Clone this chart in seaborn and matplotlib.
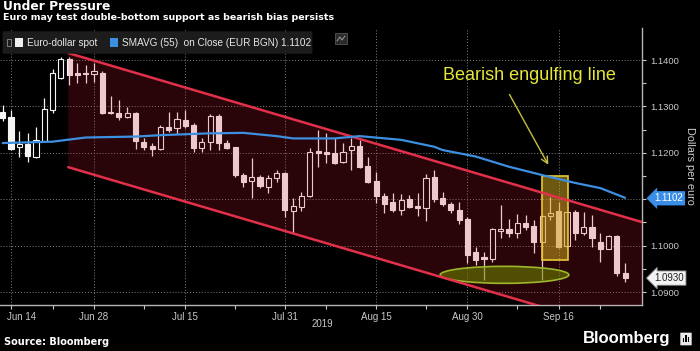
import numpy as np
import pandas as pd
import seaborn as sns
import matplotlib.pyplot as plt
import matplotlib.transforms as mtransforms
from matplotlib.patches import Rectangle, Ellipse, Polygon, FancyBboxPatch

# EUR/USD daily candles, 13 Jun - 26 Sep 2019
dates = pd.bdate_range('2019-06-13', '2019-09-26')

opens = [1.1288, 1.1277, 1.1212, 1.1219, 1.1191, 1.1225, 1.1292, 1.1361, 1.1402, 1.1372,
         1.1372, 1.1370, 1.1372, 1.1288, 1.1286, 1.1277, 1.1286, 1.1223, 1.1215, 1.1208,
         1.1256, 1.1253, 1.1271, 1.1260, 1.1210, 1.1223, 1.1279, 1.1221, 1.1212, 1.1152,
         1.1139, 1.1148, 1.1126, 1.1146, 1.1156, 1.1075, 1.1083, 1.1107, 1.1204, 1.1202,
         1.1200, 1.1180, 1.1206, 1.1215, 1.1172, 1.1139, 1.1107, 1.1094, 1.1077, 1.1100,
         1.1085, 1.1081, 1.1148, 1.1103, 1.1090, 1.1077, 1.1057, 1.0986, 1.0975, 1.0971,
         1.1031, 1.1036, 1.1027, 1.1049, 1.1042, 1.1008, 1.1064, 1.1075, 1.0999, 1.1072,
         1.1027, 1.1040, 1.1008, 1.0993, 1.1021, 1.0941]
highs = [1.1303, 1.1292, 1.1247, 1.1243, 1.1256, 1.1318, 1.1381, 1.1406, 1.1406, 1.1394,
         1.1389, 1.1394, 1.1376, 1.1322, 1.1314, 1.1299, 1.1288, 1.1232, 1.1221, 1.1260,
         1.1288, 1.1288, 1.1292, 1.1264, 1.1232, 1.1284, 1.1284, 1.1228, 1.1212, 1.1156,
         1.1189, 1.1152, 1.1152, 1.1163, 1.1159, 1.1103, 1.1116, 1.1210, 1.1249, 1.1243,
         1.1232, 1.1221, 1.1232, 1.1228, 1.1191, 1.1159, 1.1113, 1.1113, 1.1111, 1.1109,
         1.1113, 1.1154, 1.1163, 1.1116, 1.1094, 1.1094, 1.1062, 1.0997, 1.0986, 1.1038,
         1.1087, 1.1057, 1.1068, 1.1066, 1.1055, 1.1066, 1.1105, 1.1094, 1.1072, 1.1077,
         1.1072, 1.1066, 1.1027, 1.1023, 1.1023, 1.0962]
lows = [1.1269, 1.1206, 1.1191, 1.1180, 1.1189, 1.1223, 1.1286, 1.1359, 1.1346, 1.1350,
        1.1350, 1.1353, 1.1284, 1.1284, 1.1271, 1.1275, 1.1208, 1.1206, 1.1193, 1.1206,
        1.1245, 1.1241, 1.1253, 1.1202, 1.1202, 1.1206, 1.1206, 1.1208, 1.1148, 1.1126,
        1.1103, 1.1124, 1.1113, 1.1137, 1.1062, 1.1027, 1.1075, 1.1105, 1.1169, 1.1178,
        1.1176, 1.1178, 1.1163, 1.1167, 1.1135, 1.1092, 1.1070, 1.1072, 1.1066, 1.1081,
        1.1064, 1.1053, 1.1094, 1.1085, 1.1070, 1.1047, 1.0962, 1.0958, 1.0926, 1.0965,
        1.1016, 1.1019, 1.1016, 1.1034, 1.0984, 1.0926, 1.1055, 1.0995, 1.0995, 1.1012,
        1.1023, 1.0997, 1.0965, 1.0993, 1.0934, 1.0922]
closes = [1.1275, 1.1208, 1.1219, 1.1193, 1.1228, 1.1294, 1.1372, 1.1402, 1.1368, 1.1368,
          1.1370, 1.1376, 1.1286, 1.1286, 1.1277, 1.1286, 1.1225, 1.1212, 1.1208, 1.1256,
          1.1249, 1.1273, 1.1258, 1.1210, 1.1223, 1.1279, 1.1221, 1.1210, 1.1152, 1.1137,
          1.1148, 1.1128, 1.1146, 1.1156, 1.1077, 1.1085, 1.1107, 1.1202, 1.1200, 1.1197,
          1.1178, 1.1202, 1.1215, 1.1169, 1.1137, 1.1107, 1.1090, 1.1077, 1.1098, 1.1083,
          1.1081, 1.1146, 1.1100, 1.1090, 1.1077, 1.1055, 1.0980, 1.0969, 1.0971, 1.1036,
          1.1036, 1.1027, 1.1049, 1.1040, 1.1008, 1.1064, 1.1070, 1.0997, 1.1072, 1.1027,
          1.1040, 1.1016, 1.0993, 1.1021, 1.0941, 1.0930]

# 55-day simple moving average, sampled along the blue line
sma_pos = [0, 6, 10, 16, 19, 25, 29, 33, 35, 40, 43, 48, 52, 53, 57, 61, 65, 69, 72, 75]
sma_vals = [1.1221, 1.1224, 1.1233, 1.1235, 1.1238, 1.1242, 1.1243, 1.1236, 1.1231, 1.1231,
            1.1236, 1.1228, 1.1213, 1.1206, 1.1192, 1.1170, 1.1152, 1.1135, 1.1124, 1.1103]

major_dates = ['2019-06-14', '2019-06-28', '2019-07-15', '2019-07-31',
               '2019-08-15', '2019-08-30', '2019-09-16']
major_labels = ['Jun 14', 'Jun 28', 'Jul 15', 'Jul 31', 'Aug 15', 'Aug 30', 'Sep 16']
minor_dates = ['2019-06-21', '2019-07-08', '2019-07-23', '2019-08-07',
               '2019-08-23', '2019-09-09', '2019-09-23']
y_major = [1.09, 1.10, 1.11, 1.12, 1.13, 1.14]
y_labels = ['1.0900', '1.1000', '', '1.1200', '1.1300', '1.1400']
y_minor = [1.095, 1.105, 1.115, 1.125, 1.135]

# trend channel: start position, upper / lower price at start, slope per day
chan_start = 7.9
chan_top0 = 1.1415
chan_bot0 = 1.1169
chan_slope = -0.000527

last_sma = 1.1102
last_close = 1.0930

sns.set_theme(style='dark', rc={'axes.facecolor': 'black', 'figure.facecolor': 'black',
                                'savefig.facecolor': 'black'})
plt.rcParams['font.family'] = ['Liberation Sans', 'DejaVu Sans']

W, H = 700, 351
fx = lambda x: x / W
fy = lambda y: 1 - y / H

fig = plt.figure(figsize=(7, 3.51), dpi=100)
ax = fig.add_axes([0, fy(305), fx(642), 277 / H])

xs = np.arange(len(dates))
o = np.array(opens); c = np.array(closes)
up = c >= o
candle = '#f5f5f5'

ax.vlines(xs, lows, highs, color=candle, lw=0.9, zorder=2)
bottoms = np.minimum(o, c)
heights = np.maximum(np.abs(c - o), 0.00008)
ax.bar(xs, heights, bottom=bottoms, width=0.62,
       color=np.where(up, 'black', candle), edgecolor=candle, linewidth=0.8, zorder=3)

# channel shading and lines
x_end = 77.03
top_end = chan_top0 + chan_slope * (x_end - chan_start)
bot_end = chan_bot0 + chan_slope * (x_end - chan_start)
ax.add_patch(Polygon([(chan_start, chan_top0), (x_end, top_end), (x_end, bot_end),
                      (chan_start, chan_bot0)], closed=True, facecolor=(0.82, 0.1, 0.2),
                     alpha=0.2, edgecolor='none', zorder=4))
ax.plot([chan_start, x_end], [chan_top0, top_end], color='#e2304a', lw=1.8, zorder=6)
ax.plot([chan_start, x_end], [chan_bot0, bot_end], color='#e2304a', lw=1.8, zorder=6)

# engulfing box and double-bottom ellipse
ax.add_patch(Rectangle((64.95, 1.0968), 3.15, 0.0181, facecolor='#d8b020', alpha=0.5,
                       edgecolor='none', zorder=5))
ax.add_patch(Rectangle((64.95, 1.0968), 3.15, 0.0181, facecolor='none',
                       edgecolor='#e8c838', lw=1.2, zorder=5))
ax.add_patch(Ellipse((60.46, 1.0937), 15.5, 0.00366, facecolor=(0.45, 0.55, 0.0), alpha=0.55,
                     edgecolor='none', zorder=5))
ax.add_patch(Ellipse((60.46, 1.0937), 15.5, 0.00366, facecolor='none',
                     edgecolor='#9cb82a', lw=1.2, zorder=5))

sns.lineplot(x=sma_pos, y=sma_vals, ax=ax, color='#3d8fe0', lw=1.6, zorder=7)

ax.annotate('', xy=(65.9, 1.1169), xytext=(60.9, 1.1331),
            arrowprops=dict(arrowstyle='->', color='#c8c040', lw=1.0), zorder=8)
ax.text(53.05, 1.1366, 'Bearish engulfing line', color='#e6e63a', fontsize=13,
        ha='left', va='center', zorder=8)

ax.set_xlim(-0.33, x_end)
ax.set_ylim(1.0872, 1.1469)

major_pos = [dates.get_loc(pd.Timestamp(d)) for d in major_dates]
minor_pos = [dates.get_loc(pd.Timestamp(d)) for d in minor_dates]
ax.set_xticks(major_pos)
ax.set_xticklabels(major_labels)
ax.set_xticks(minor_pos, minor=True)
ax.set_yticks(y_major)
ax.set_yticklabels(y_labels)
ax.set_yticks(y_minor, minor=True)
ax.yaxis.tick_right()

ax.grid(True, which='major', color='#808080', lw=0.7, linestyle=(0, (1, 2)))
ax.set_axisbelow(True)
ax.tick_params(axis='x', which='both', colors='#c8c8c8', labelsize=7, length=3,
               width=0.8, pad=2, bottom=True)
ax.tick_params(axis='y', which='both', colors='#c8c8c8', labelsize=6.8, length=3,
               width=0.8, pad=3, right=True, left=False, labelright=True, labelleft=False)
for s in ['left', 'top']:
    ax.spines[s].set_visible(False)
for s in ['right', 'bottom']:
    ax.spines[s].set_visible(True)
    ax.spines[s].set_color('#b4b4b4')
    ax.spines[s].set_linewidth(1.0)
ax.set_xlabel('')
ax.set_ylabel('')

# first date label sits to the right of its tick so it stays on the page
first = ax.get_xticklabels()[0]
first.set_horizontalalignment('left')
first.set_transform(first.get_transform() +
                    mtransforms.ScaledTranslation(-4 / 100, 0, fig.dpi_scale_trans))

# price tags on the right axis
blend = mtransforms.blended_transform_factory(ax.transAxes, ax.transData)
ax.text(1.019, last_sma, f'{last_sma:.4f}', transform=blend, color='white', fontsize=7,
        ha='left', va='center', clip_on=False, zorder=9,
        bbox=dict(boxstyle='larrow,pad=0.22', fc='#3a8ee6', ec='none'))
ax.text(1.019, last_close, f'{last_close:.4f}', transform=blend, color='#202020',
        fontsize=7, ha='left', va='center', clip_on=False, zorder=9,
        bbox=dict(boxstyle='larrow,pad=0.22', fc='#f2f2f2', ec='#888888', lw=0.6))

fig.text(fx(690), fy(166), 'Dollars per euro', rotation=270, color='#d0d0d0',
         fontsize=7.8, ha='center', va='center')

# header
fig.text(fx(3), fy(6), 'Under Pressure', color='white', fontsize=8.8, fontweight='bold',
         family='DejaVu Sans', ha='left', va='center')
fig.text(fx(3), fy(18), 'Euro may test double-bottom support as bearish bias persists',
         color='white', fontsize=6.8, fontweight='bold', family='DejaVu Sans',
         ha='left', va='center')

# legend bar
fig.patches.append(FancyBboxPatch((fx(4), fy(53)), fx(307), 21 / H, boxstyle='round,pad=0.002',
                                  transform=fig.transFigure, fc='#1c1c1c', ec='none', zorder=10))
fig.patches.append(Rectangle((fx(7), fy(46)), fx(4), 7 / H, transform=fig.transFigure,
                             fc='none', ec='#909090', lw=0.6, zorder=11))
fig.patches.append(Rectangle((fx(15), fy(47)), fx(8), 9 / H, transform=fig.transFigure,
                             fc='#f0f0f0', ec='none', zorder=11))
fig.patches.append(Rectangle((fx(110), fy(47)), fx(8), 9 / H, transform=fig.transFigure,
                             fc='#3d8fe0', ec='none', zorder=11))
fig.text(fx(27), fy(42.5), 'Euro-dollar spot', color='#e8e8e8', fontsize=7.2,
         ha='left', va='center', zorder=12)
fig.text(fx(122), fy(42.5), 'SMAVG (55)  on Close (EUR BGN) 1.1102', color='#e8e8e8',
         fontsize=7.2, ha='left', va='center', zorder=12)
fig.patches.append(Rectangle((fx(335), fy(44)), fx(12), 11 / H, transform=fig.transFigure,
                             fc='#2a2a2a', ec='#555555', lw=0.6, zorder=11))
fig.lines.append(plt.Line2D([fx(337), fx(340), fx(342), fx(345)],
                            [fy(41), fy(37), fy(40), fy(36)], transform=fig.transFigure,
                            color='#9a9a9a', lw=0.7, zorder=12))

# footer
fig.text(fx(322), fy(324), '2019', color='#c8c8c8', fontsize=7, ha='center', va='center')
fig.text(fx(4), fy(342), 'Source: Bloomberg', color='white', fontsize=7, fontweight='bold',
         family='DejaVu Sans', ha='left', va='center')
fig.text(fx(583), fy(338), 'Bloomberg', color='white', fontsize=12, fontweight='bold',
         ha='left', va='center')
fig.patches.append(FancyBboxPatch((fx(681), fy(345)), fx(10), 12 / H, boxstyle='round,pad=0.001',
                                  transform=fig.transFigure, fc='#e8e8e8', ec='none', zorder=11))
for bx, bh in [(683.5, 4), (686, 7), (688.5, 5)]:
    fig.patches.append(Rectangle((fx(bx - 0.8), fy(342)), fx(1.6), bh / H,
                                 transform=fig.transFigure, fc='black', ec='none', zorder=12))

fig.savefig('out.png', dpi=100, facecolor='black')
